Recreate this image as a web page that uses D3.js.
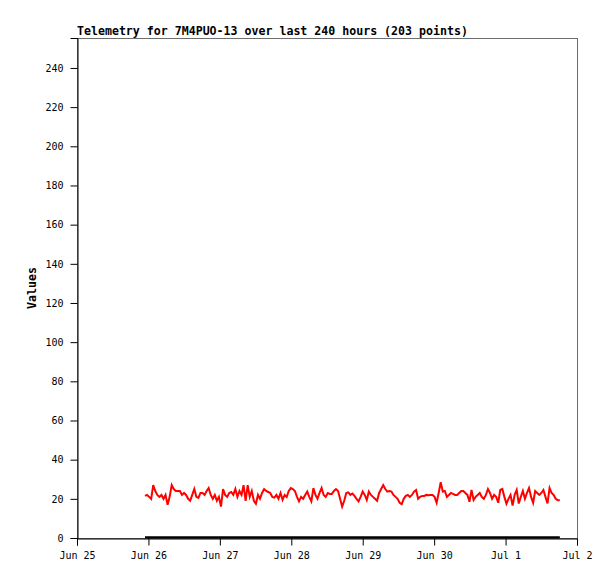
<!DOCTYPE html>
<html>
<head>
<meta charset="utf-8">
<script src="https://cdn.jsdelivr.net/npm/d3@7"></script>
<style>
  html, body { margin: 0; padding: 0; background: #ffffff; }
  svg { display: block; }
</style>
</head>
<body>
<script>
// ---- data ----
const chartTitle = "Telemetry for 7M4PUO-13 over last 240 hours (203 points)";
const yAxisLabel = "Values";
const yTicks = [0, 20, 40, 60, 80, 100, 120, 140, 160, 180, 200, 220, 240];
const xTickLabels = ["Jun 25", "Jun 26", "Jun 27", "Jun 28", "Jun 29", "Jun 30", "Jul 1", "Jul 2"];
const xDomainStart = [2023, 5, 25];
const xDomainEnd = [2023, 6, 2];
const firstSample = [2023, 5, 25, 22, 51];
const sampleIntervalMinutes = 41.4;
const telemetryValues = [
  21.5,22,21,20,27,24,22,21,22,20,
  22,17,21,27,25,24,24,24,22,23,
  22,20,19,22,25,21,20.5,23,23,22,
  24,25.5,22,20,22,19,21,16,25,22,
  21,23,23.5,22,25,21,24,22,27,19,
  27,21,24,19,17.5,22,20,23,25,24,
  23.5,23,21,20.6,22,20,23,19.5,22,21,
  24,25.5,25,24,21,18.7,21,20,22,23.7,
  21,18.7,25.5,22,20,23,25.5,22,21,23,
  22.5,22.5,24,25,24,20,16,19,23,23.3,
  22,22.7,21.5,20,18.7,21,23.7,22,19.4,23.7,
  22,21,20,19,23,25,27,25,23.7,24,
  23.7,22,21,20,18,17.3,20,21.5,22,21,
  22,23.7,24.5,20,21,21.5,21.5,22,21.8,22,
  22,21,18,23,28.5,23.7,24,21,22,23,
  22.5,22,22,23,24,24,23,22,18.5,24.5,
  19.4,21,22,23,21,20,22,25,23,20,
  22,21,18,24.5,25,21,17.5,20,22,16.5,
  22,24.5,17.6,21,24,20,23,25.5,21,18,
  24,23,22,23,24.5,21,17.7,25.5,23,22,
  20,19.3,19.3
];
const baselineValue = 0;

// ---- layout ----
const W = 615, H = 579;
const margin = { left: 77, right: 38, top: 38, bottom: 41 };
const plotW = W - margin.left - margin.right;  // 500
const plotH = H - margin.top - margin.bottom;  // 500

const svg = d3.select("body").append("svg")
  .attr("width", W).attr("height", H);

const t0 = new Date(...firstSample);
const times = telemetryValues.map((v, i) => new Date(t0.getTime() + i * sampleIntervalMinutes * 60000));

const x = d3.scaleTime()
  .domain([new Date(...xDomainStart), new Date(...xDomainEnd)])
  .range([margin.left, margin.left + plotW]);
const y = d3.scaleLinear()
  .domain([0, 255.3])
  .range([margin.top + plotH, margin.top]);

const mono = "'DejaVu Sans Mono', 'Liberation Mono', monospace";

// frame
svg.append("rect")
  .attr("x", margin.left + 0.5).attr("y", margin.top + 0.5)
  .attr("width", plotW).attr("height", plotH)
  .attr("fill", "none").attr("stroke", "#6e6e6e").attr("stroke-width", 1);

// title
svg.append("text")
  .attr("x", margin.left).attr("y", 35)
  .attr("font-family", mono).attr("font-weight", "bold")
  .attr("font-size", "11.6px").attr("fill", "#000")
  .text(chartTitle);

// y axis
const yAxis = d3.axisLeft(y).tickValues(yTicks).tickSize(7).tickPadding(7).tickFormat(d3.format("d"));
const gy = svg.append("g").attr("transform", `translate(${margin.left + 0.5},0)`).call(yAxis);
gy.select(".domain").attr("stroke", "#000");
gy.selectAll(".tick line").attr("stroke", "#000");
gy.selectAll(".tick text").attr("font-family", mono).attr("font-size", "10px").attr("fill", "#000");

// x axis
const xTickDates = xTickLabels.map((d, i) => d3.timeDay.offset(new Date(...xDomainStart), i));
const xAxis = d3.axisBottom(x).tickValues(xTickDates).tickSize(7).tickPadding(6)
  .tickFormat((d, i) => xTickLabels[i]);
const gx = svg.append("g").attr("transform", `translate(0,${margin.top + plotH + 0.5})`).call(xAxis);
gx.select(".domain").attr("stroke", "#000");
gx.selectAll(".tick line").attr("stroke", "#000");
gx.selectAll(".tick text").attr("font-family", mono).attr("font-size", "10px").attr("fill", "#000");

// y label
svg.append("text")
  .attr("transform", `translate(36,${margin.top + plotH / 2}) rotate(-90)`)
  .attr("text-anchor", "middle")
  .attr("font-family", mono).attr("font-weight", "bold")
  .attr("font-size", "11.6px").attr("fill", "#000")
  .text(yAxisLabel);

// baseline series (zero)
const line = d3.line().x(d => x(d[0])).y(d => y(d[1]));
svg.append("path")
  .datum([[times[0], baselineValue], [times[times.length - 1], baselineValue]])
  .attr("d", line)
  .attr("fill", "none").attr("stroke", "#000").attr("stroke-width", 2.2)
  .attr("transform", "translate(0,-0.6)");

// telemetry series
svg.append("path")
  .datum(telemetryValues.map((v, i) => [times[i], v]))
  .attr("d", line)
  .attr("fill", "none").attr("stroke", "#ff0000").attr("stroke-width", 2)
  .attr("stroke-linejoin", "miter");
</script>
</body>
</html>
